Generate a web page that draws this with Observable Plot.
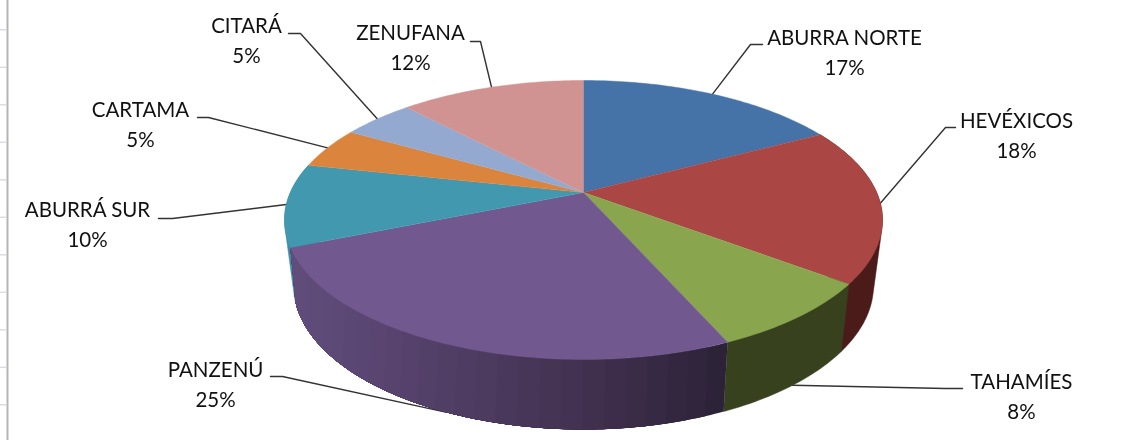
<!DOCTYPE html>
<html>
<head>
<meta charset="utf-8">
<script src="https://cdn.jsdelivr.net/npm/d3@7"></script>
<script src="https://cdn.jsdelivr.net/npm/@observablehq/plot@0.6"></script>
<style>
html,body{margin:0;padding:0;background:#fff;overflow:hidden}
svg{display:block;filter:blur(0.35px)}
</style>
</head>
<body>
<div id="chart"></div>
<script>
// ---- chart values, clockwise from 12 o'clock ----
const names = ["ABURRA NORTE","HEVÉXICOS","TAHAMÍES","PANZENÚ","ABURRÁ SUR","CARTAMA","CITARÁ","ZENUFANA"];
const shares = [17.2,18.1,8.1,25.4,9.6,4.8,4.7,12.1];
const topColors = ["#4572A7","#AA4643","#89A54E","#71588F","#4198AF","#DB843D","#93A9CF","#D19392"];
const sideColors = ["#2c4a6e","#4a1b18","#37411e","#4a3660","#3b8ea6","#8f5424","#5f6e87","#885f5f"];

// ---- pie geometry (tilted, in perspective) ----
const topDisc = {cx:583, cy:219.5, rx:299, ry:139.5, tilt:0.197, lean:0};
const baseDisc = {cx:583, cy:285, rx:290, ry:144, tilt:0.2, lean:0.0635};
const project = (disc, deg) => {
  const d = deg > 180 ? deg + (deg-180)*disc.lean : deg;
  const t = d*Math.PI/180, u = Math.sin(t), v = Math.cos(t), k = 1 + disc.tilt*v;
  return [disc.cx + disc.rx*u*Math.sqrt(1-disc.tilt*disc.tilt)/k, disc.cy - disc.ry*(v+disc.tilt)/k];
};
const apex = d => [d.cx, d.cy - d.ry*d.tilt];
const range = (a,b,step) => { const o=[]; for(let t=a;t<b;t+=step) o.push(t); o.push(b); return o; };

// ---- slice angles from the values ----
let run = 0;
const slices = names.map((name,i)=>{
  const a0 = run/100*360; run += shares[i]; const a1 = run/100*360;
  return {name, a0, a1, mid:(a0+a1)/2, share:shares[i], i};
});

// ---- label layout: [label x, label y, elbow x, elbow y, end x, end y, attach to base rim] ----
const layout = {
  "ABURRA NORTE":[844,50,750,44,762,44,false],
  "HEVÉXICOS":[1016,133,945,127,955,127,false],
  "TAHAMÍES":[1021,394,945,388,962,388,true],
  "PANZENÚ":[215,382,282,376,270,376,true],
  "ABURRÁ SUR":[87,222,172,218,158,218,false],
  "CARTAMA":[140,122,208,117,197,117,false],
  "CITARÁ":[246,38,300,33,288,33,false],
  "ZENUFANA":[410,45,480,41,470,41,false]
};

const topRows = slices.flatMap(s=>{
  const pts = [apex(topDisc), ...range(s.a0,s.a1,1).map(t=>project(topDisc,t))];
  return pts.map(p=>({name:s.name,x:p[0],y:p[1]}));
});

// plain side walls of slices (hull keeps the silhouette tangent)
const wallOrder = ["ABURRÁ SUR","HEVÉXICOS","TAHAMÍES"];
const wallRows = wallOrder.flatMap(n=>{
  const s = slices.find(d=>d.name===n);
  const ts = range(s.a0,s.a1,1);
  const hull = d3.polygonHull([...ts.map(t=>project(topDisc,t)),...ts.map(t=>project(baseDisc,t))]);
  return [...hull,hull[0]].map(p=>({wall:n,c:sideColors[s.i],x:p[0],y:p[1]}));
});

// purple wall is shaded in bands, dark to the right; each band runs on to the end of
// the wall and is painted over by the next one, so no seams show between them
const shade = d3.scaleLinear().domain([295,400,590,723]).range(["#614d7b","#56426c","#41304f","#2b2237"]).interpolate(d3.interpolateRgb).clamp(true);
const purple = slices.find(d=>d.name==="PANZENÚ");
const bandEdges = range(purple.a0,purple.a1,3.4).slice(0,-1);
const bandRows = bandEdges.reverse().flatMap((a,k)=>{
  const ts = range(a,purple.a1,0.8);
  const pts = [...ts.map(t=>project(topDisc,t)),...ts.slice().reverse().map(t=>project(baseDisc,t))];
  const mx = project(baseDisc,a+1.7)[0];
  return [...pts,pts[0]].map(p=>({band:k,c:shade(mx),x:p[0],y:p[1]}));
}).reverse();
const bandOrder = d3.groups(bandRows,d=>d.band).sort((p,q)=>q[0]-p[0]).flatMap(g=>g[1].reverse());

const leaderRows = slices.flatMap(s=>{
  const L = layout[s.name];
  const start = project(L[6]?baseDisc:topDisc,s.mid);
  return [start,[L[2],L[3]],[L[4],L[5]]].map(p=>({name:s.name,x:p[0],y:p[1]}));
});
const labelRows = slices.map(s=>({x:layout[s.name][0],y:layout[s.name][1],text:`${s.name}\n${Math.round(s.share)}%`}));

// spreadsheet edge visible at the left of the screenshot
const sheetRows = [29.3,66.8,104.3,141.8,179.3,216.8,254.3,291.8,329.3,366.8,404.3];

const chart = Plot.plot({
  width:1134, height:440, margin:0,
  style:{background:"#fff"},
  x:{domain:[0,1134],range:[0,1134],axis:null},
  y:{domain:[0,440],range:[0,440],axis:null},
  color:{domain:names,range:topColors},
  marks:[
    Plot.ruleY(sheetRows,{y:d=>d,x1:0,x2:6,stroke:"#d9dcec",strokeWidth:1.5}),
    Plot.ruleX([7],{y1:0,y2:440,stroke:"#b4b4b4",strokeWidth:2}),
    Plot.line(leaderRows,{x:"x",y:"y",z:"name",stroke:"#333",strokeWidth:1.4,curve:"linear"}),
    Plot.line(wallRows,{x:"x",y:"y",z:"wall",fill:{value:"c",scale:null},stroke:{value:"c",scale:null},strokeWidth:0.5}),
    Plot.line(bandOrder,{x:"x",y:"y",z:"band",fill:{value:"c",scale:null},stroke:"none"}),
    Plot.line(topRows,{x:"x",y:"y",z:"name",fill:"name",stroke:"name",strokeWidth:0.5}),
    Plot.text(labelRows,{x:"x",y:"y",text:"text",fontFamily:"Lato",fontSize:20.5,lineHeight:1.46,fill:"#111",lineAnchor:"middle"})
  ]
});
document.getElementById("chart").appendChild(chart);
</script>
</body>
</html>
